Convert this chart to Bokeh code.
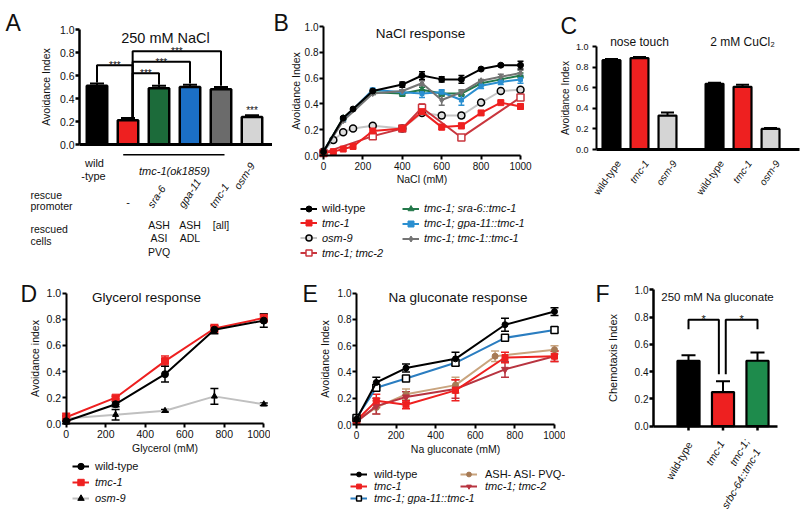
import math
from bokeh.plotting import figure
from bokeh.models import (Range1d, FixedTicker, Label, Whisker, ColumnDataSource,
                          Legend, LegendItem, NumeralTickFormatter, TeeHead)
from bokeh.layouts import row, column
from bokeh.embed import file_html
from bokeh.resources import INLINE

FONT = "Liberation Sans"
TXT = "#111111"
RED = "#ee2020"

# ---------------- data ----------------
# Panel A: 250 mM NaCl avoidance
A_strains = ["wild-type", "tmc-1", "tmc-1; sra-6::tmc-1", "tmc-1; gpa-11::tmc-1",
             "tmc-1; tmc-1::tmc-1", "osm-9"]
A_values = [0.51, 0.21, 0.49, 0.50, 0.48, 0.24]
A_errors = [0.02, 0.02, 0.02, 0.02, 0.02, 0.015]
A_colors = ["#000000", RED, "#1c6b3a", "#1b6fc5", "#6b6b6b", "#d5d5d5"]
A_promoters = ["sra-6", "gpa-11", "tmc-1"]
A_cells = [["ASH", "ASI", "PVQ"], ["ASH", "ADL"], ["[all]"]]
A_sig = [(0, 1, 0.69), (1, 2, 0.62), (1, 3, 0.72), (1, 4, 0.81)]

# Panel B: NaCl response
B_x_all = [0, 50, 100, 150, 250, 400, 500, 600, 700, 800, 900, 1000]
B_x_wt = [0, 100, 150, 250, 400, 500, 600, 700, 800, 900, 1000]
B_wt = [0.03, 0.29, 0.36, 0.50, 0.55, 0.62, 0.59, 0.59, 0.67, 0.70, 0.70]
B_wt_err = [0.01, 0.01, 0.01, 0.01, 0.02, 0.03, 0.02, 0.03, 0.01, 0.01, 0.03]
B_tmc1 = [0.02, 0.03, 0.05, 0.07, 0.19, 0.21, 0.34, 0.22, 0.23, 0.33, 0.41, 0.38]
B_tmc1_err = [0.01, 0.01, 0.01, 0.01, 0.02, 0.01, 0.02, 0.02, 0.02, 0.01, 0.01, 0.02]
B_osm9 = [0.03, 0.12, 0.18, 0.21, 0.23, 0.21, 0.33, 0.31, 0.31, 0.41, 0.50, 0.51]
B_osm9_err = [0.01, 0.01, 0.01, 0.01, 0.01, 0.01, 0.01, 0.02, 0.02, 0.01, 0.01, 0.01]
B_x_tmc2 = [0, 250, 400, 500, 700, 1000]
B_tmc2 = [0.02, 0.15, 0.21, 0.37, 0.14, 0.45]
B_tmc2_err = [0.01, 0.01, 0.01, 0.03, 0.01, 0.02]
B_x_res = [0, 100, 250, 400, 500, 600, 700, 800, 900, 1000]
B_sra6 = [0.03, 0.29, 0.49, 0.48, 0.51, 0.48, 0.48, 0.56, 0.59, 0.62]
B_sra6_err = [0.01, 0.01, 0.01, 0.02, 0.02, 0.02, 0.02, 0.02, 0.02, 0.02]
B_gpa11 = [0.03, 0.28, 0.51, 0.49, 0.48, 0.49, 0.43, 0.54, 0.57, 0.59]
B_gpa11_err = [0.01, 0.01, 0.01, 0.02, 0.03, 0.02, 0.04, 0.02, 0.02, 0.03]
B_tmc1r = [0.03, 0.27, 0.48, 0.50, 0.56, 0.43, 0.49, 0.58, 0.61, 0.64]
B_tmc1r_err = [0.01, 0.01, 0.01, 0.01, 0.02, 0.04, 0.02, 0.01, 0.02, 0.02]

# Panel C: nose touch and CuCl2
C_assays = ["nose touch", "2 mM CuCl\u2082"]
C_strains = ["wild-type", "tmc-1", "osm-9"]
C_values = [0.87, 0.89, 0.33, 0.64, 0.61, 0.20]
C_errors = [0.01, 0.01, 0.03, 0.01, 0.02, 0.01]
C_colors = ["#000000", RED, "#d5d5d5"] * 2

# Panel D: glycerol response
D_x = [0, 250, 500, 750, 1000]
D_wt = [0.02, 0.15, 0.38, 0.72, 0.79]
D_wt_err = [0.02, 0.02, 0.06, 0.03, 0.05]
D_tmc1 = [0.05, 0.20, 0.48, 0.73, 0.81]
D_tmc1_err = [0.03, 0.01, 0.04, 0.03, 0.03]
D_osm9 = [0.04, 0.07, 0.10, 0.21, 0.15]
D_osm9_err = [0.02, 0.04, 0.01, 0.06, 0.01]

# Panel E: Na gluconate response
E_x = [0, 100, 250, 500, 750, 1000]
E_wt = [0.04, 0.32, 0.43, 0.50, 0.76, 0.86]
E_wt_err = [0.01, 0.04, 0.03, 0.05, 0.05, 0.03]
E_tmc1 = [0.03, 0.18, 0.15, 0.26, 0.51, 0.52]
E_tmc1_err = [0.01, 0.05, 0.03, 0.08, 0.04, 0.04]
E_gpa11 = [0.05, 0.28, 0.35, 0.47, 0.66, 0.72]
E_gpa11_err = [0.01, 0.02, 0.02, 0.02, 0.02, 0.02]
E_x_abl = [0, 100, 250, 500, 700, 1000]
E_abl = [0.03, 0.13, 0.23, 0.30, 0.52, 0.57]
E_abl_err = [0.01, 0.05, 0.04, 0.06, 0.04, 0.03]
E_tmc2 = [0.02, 0.14, 0.21, 0.27, 0.42, 0.52]
E_tmc2_err = [0.01, 0.06, 0.04, 0.07, 0.06, 0.04]

# Panel F: 250 mM Na gluconate chemotaxis
F_strains = ["wild-type", "tmc-1", "tmc-1; srbc-64::tmc-1"]
F_values = [0.48, 0.25, 0.48]
F_errors = [0.04, 0.08, 0.06]
F_colors = ["#000000", RED, "#1e8b4c"]
F_sig = [(0, 0.88, 0.78, 0.71, 0.38), (1.08, 2, 0.78, 0.38, 0.71)]


# ---------------- helpers ----------------
class Panel:
    def __init__(self, ox, oy, w, h, px0, sx, py0, sy):
        self.px0, self.sx, self.py0, self.sy = px0, sx, py0, sy
        self.oy, self.h = oy, h
        p = figure(width=w, height=h, output_backend="svg", toolbar_location=None,
                   x_range=Range1d(self.X(ox), self.X(ox + w)),
                   y_range=Range1d(self.Y(oy + h), self.Y(oy)),
                   min_border=0, min_border_left=0, min_border_right=0,
                   min_border_top=0, min_border_bottom=0)
        p.outline_line_color = None
        p.xgrid.visible = False
        p.ygrid.visible = False
        p.background_fill_color = "white"
        p.border_fill_color = "white"
        self.p = p

    def X(self, px):
        return (px - self.px0) / self.sx

    def Y(self, py):
        return (self.py0 - py) / self.sy

    def td(self, x, y, s, size, style="normal", align="left", baseline="alphabetic",
           angle=0.0, color=TXT):
        self.p.add_layout(Label(x=x, y=y, text=s, text_font=FONT,
                                text_font_size=f"{size}px", text_font_style=style,
                                text_align=align, text_baseline=baseline,
                                angle=math.radians(angle), text_color=color))

    def tp(self, px, py, s, size, **kw):
        self.td(self.X(px), self.Y(py), s, size, **kw)


def style_axis(ax, fixed, bounds, ticks, size, lw, label=None, label_size=10.5,
               fmt=None, ls=2, als=2, tick_out=4):
    ax.fixed_location = fixed
    ax.bounds = bounds
    ax.ticker = FixedTicker(ticks=ticks)
    ax.minor_tick_line_color = None
    ax.major_tick_in = 0
    ax.major_tick_out = tick_out
    ax.axis_line_width = lw
    ax.axis_line_color = "black"
    ax.major_tick_line_width = lw
    ax.major_tick_line_color = "black"
    ax.major_label_text_font = FONT
    ax.major_label_text_font_size = f"{size}px"
    ax.major_label_text_color = TXT
    ax.major_label_standoff = ls
    if fmt:
        ax.formatter = NumeralTickFormatter(format=fmt)
    if label:
        ax.axis_label = label
        ax.axis_label_text_font = FONT
        ax.axis_label_text_font_size = f"{label_size}px"
        ax.axis_label_text_font_style = "normal"
        ax.axis_label_text_color = TXT
        ax.axis_label_standoff = als


def errbars(p, xs, ys, es, color, head, lw, lower=True):
    src = ColumnDataSource(dict(x=list(xs),
                                lo=[(y - e) if lower else y for y, e in zip(ys, es)],
                                hi=[y + e for y, e in zip(ys, es)]))
    w = Whisker(source=src, base="x", lower="lo", upper="hi",
                line_color=color, line_width=lw,
                upper_head=TeeHead(size=head, line_color=color, line_width=lw),
                lower_head=TeeHead(size=head, line_color=color, line_width=lw) if lower else None)
    p.add_layout(w)


def series(p, xs, ys, es, color, marker, msize, lw=2, mfill=None, mline=None,
           mlw=1, head=6, ecolor=None, elw=1.5):
    rl = p.line(xs, ys, line_color=color, line_width=lw)
    if es is not None:
        errbars(p, xs, ys, es, ecolor or color, head, elw)
    rs = p.scatter(xs, ys, marker=marker, size=msize,
                   fill_color=mfill if mfill is not None else color,
                   line_color=mline if mline is not None else color, line_width=mlw)
    return [rl, rs]


def legend(p, items, x, y, style="italic", size=11, gw=17, row_h=15, standoff=5):
    lg = Legend(items=items, location=(x, y), orientation="vertical",
                glyph_width=gw, glyph_height=row_h, label_height=row_h,
                spacing=0, padding=0, margin=0, label_standoff=standoff,
                label_text_font=FONT, label_text_font_size=f"{size}px",
                label_text_font_style=style, label_text_color=TXT,
                border_line_color=None, background_fill_alpha=0)
    p.add_layout(lg)


Y_TICKS = [0, 0.2, 0.4, 0.6, 0.8, 1.0]
X_TICKS = [0, 200, 400, 600, 800, 1000]

# ---------------- Panel A ----------------
A = Panel(0, 0, 272, 260, 96.5, 31, 144, 115)
pa = A.p
A_pos = list(range(len(A_values)))
style_axis(pa.yaxis[0], A.X(79), (0, 1), Y_TICKS, 10.5, 2.5, "Avoidance Index", 10.5,
           fmt="0.0", ls=1, als=5)
style_axis(pa.xaxis[0], 0, (A.X(79), A.X(272)), [], 10, 3)
pa.vbar(x=A_pos, top=A_values, width=0.66, fill_color=A_colors,
        line_color="black", line_width=2.5)
errbars(pa, A_pos, A_values, A_errors, "black", 14, 2, lower=False)

PIV = 0.15


def a_end_x(i):
    return i + PIV if i == 1 else i


def a_end_y(i):
    return A_values[i] + A_errors[i] + 0.01


bx, by = [], []
for i, j, h in A_sig:
    xl, xr = a_end_x(i), a_end_x(j)
    bx.append([xl, xl, xr, xr])
    by.append([a_end_y(i), h, h, a_end_y(j)])
    A.td((xl + xr) / 2, h - 0.005, "***", 10, align="center")
pa.multi_line(bx, by, line_color="black", line_width=2)
A.td(5, A_values[5] + A_errors[5] + 0.045, "***", 10, align="center")

A.tp(5, 22, "A", 23)
A.tp(165, 37, "250 mM NaCl", 14.5, align="center")
A.tp(94, 162, "wild", 11, align="center")
A.tp(93, 175, "-type", 11, align="center")
pa.line([A.X(122.7), A.X(224)], [A.Y(154.3), A.Y(154.3)], line_color="black", line_width=1.5)
A.tp(174, 170, "tmc-1(ok1859)", 11, style="italic", align="center")
A.tp(30, 194.5, "rescue", 10.5)
A.tp(30, 205.5, "promoter", 10.5)
A.tp(30, 228, "rescued", 10.5)
A.tp(30, 240.5, "cells", 10.5)
A.td(1, A.Y(201), "-", 11, align="center")
for k, name in enumerate(A_promoters):
    A.td(2 + k - 0.3, A.Y(206), name, 10.5, style="italic", angle=57)
A.td(5.0, A.Y(163), "osm-9", 10.5, style="italic", align="right", baseline="middle", angle=57)
for k, cells in enumerate(A_cells):
    for r, c in enumerate(cells):
        A.td(2 + k, A.Y(224 + 13.8 * r), c, 10.5, align="center")

# ---------------- Panel B ----------------
B = Panel(272, 0, 268, 260, 323, 0.197, 155, 129)
pb = B.p
style_axis(pb.yaxis[0], 0, (0, 1), Y_TICKS, 10, 2, "Avoidance Index", 10.5,
           fmt="0.0", ls=1, als=0)
style_axis(pb.xaxis[0], 0, (0, 1000), X_TICKS, 10, 2, "NaCl (mM)", 10.5, ls=2, als=0)
r_osm9 = series(pb, B_x_all, B_osm9, B_osm9_err, "#c4c4c4", "circle", 7,
                mfill="#dedede", mline="black", mlw=1.5, ecolor="black")
r_tmc2 = series(pb, B_x_tmc2, B_tmc2, B_tmc2_err, "#c9363e", "square", 7,
                mfill="white", mline="#c9363e", mlw=1.5)
r_tmc1 = series(pb, B_x_all, B_tmc1, B_tmc1_err, RED, "square", 6)
r_sra6 = series(pb, B_x_res, B_sra6, B_sra6_err, "#23784a", "triangle", 6)
r_gpa = series(pb, B_x_res, B_gpa11, B_gpa11_err, "#2b8fd0", "square", 4)
r_res = series(pb, B_x_res, B_tmc1r, B_tmc1r_err, "#747474", "diamond", 6)
r_wt = series(pb, B_x_wt, B_wt, B_wt_err, "black", "circle", 6)
B.tp(420, 32.5, "NaCl response", 13.5, align="center")
B.tp(273, 22, "B", 23)
legend(pb, [LegendItem(label="wild-type", renderers=r_wt)], 28, 44.5, style="normal")
legend(pb, [LegendItem(label="tmc-1", renderers=r_tmc1),
            LegendItem(label="osm-9", renderers=r_osm9),
            LegendItem(label="tmc-1; tmc-2", renderers=r_tmc2)], 28, 0)
legend(pb, [LegendItem(label="tmc-1; sra-6::tmc-1", renderers=r_sra6),
            LegendItem(label="tmc-1; gpa-11::tmc-1", renderers=r_gpa),
            LegendItem(label="tmc-1; tmc-1::tmc-1", renderers=r_res)], 130, 14.5)

# ---------------- Panel C ----------------
C = Panel(540, 0, 260, 260, 611, 28, 149, 102.7)
pc = C.p
C_pos = [g * 3.68 + k for g in range(len(C_assays)) for k in range(len(C_strains))]
style_axis(pc.yaxis[0], C.X(596), (0, 1), Y_TICKS, 9, 2, "Avoidance Index", 10,
           fmt="0.0", ls=4, als=2)
style_axis(pc.xaxis[0], 0, (C.X(596), C.X(799)), [], 9, 3)
pc.vbar(x=C_pos, top=C_values, width=0.64, fill_color=C_colors,
        line_color="black", line_width=2.2)
errbars(pc, C_pos, C_values, C_errors, "black", 13, 2, lower=False)
C.tp(560, 25, "C", 23)
C.td(1, C.Y(41.7), C_assays[0], 12, align="center")
C.td(3.68 + 1, C.Y(41.7), C_assays[1], 12, align="center")
for idx, xp in enumerate(C_pos):
    nm = C_strains[idx % 3]
    C.td(xp + 0.25, C.Y(161), nm, 10, style="normal" if nm == "wild-type" else "italic",
         align="right", baseline="middle", angle=55)

# ---------------- Panel D ----------------
D = Panel(0, 260, 270, 255, 65.7, 0.1976, 423.3, 130.6)
pd_ = D.p
style_axis(pd_.yaxis[0], 0, (0, 1), Y_TICKS, 10.5, 2, "Avoidance index", 10.5,
           fmt="0.0", ls=1, als=3)
style_axis(pd_.xaxis[0], 0, (0, 1000), X_TICKS, 10.5, 2, "Glycerol (mM)", 10.5, ls=2, als=1)
d_osm = series(pd_, D_x, D_osm9, D_osm9_err, "#c0c0c0", "triangle", 6,
               mfill="black", mline="black", head=8, ecolor="black")
d_tmc = series(pd_, D_x, D_tmc1, D_tmc1_err, RED, "square", 7, head=8)
d_wt = series(pd_, D_x, D_wt, D_wt_err, "black", "circle", 7, head=8)
D.tp(20, 293, "D", 23)
D.tp(146, 297.3, "Glycerol response", 13.5, align="center")
legend(pd_, [LegendItem(label="wild-type", renderers=d_wt)], 72, 41, style="normal", row_h=16, standoff=6)
legend(pd_, [LegendItem(label="tmc-1", renderers=d_tmc),
             LegendItem(label="osm-9", renderers=d_osm)], 72, 9, row_h=16, standoff=6)

# ---------------- Panel E ----------------
E = Panel(270, 260, 295, 255, 356, 0.198, 424, 131.3)
pe = E.p
style_axis(pe.yaxis[0], 0, (0, 1), Y_TICKS, 10, 2, "Avoidance Index", 10.5,
           fmt="0.0", ls=1, als=4)
style_axis(pe.xaxis[0], 0, (0, 1000), X_TICKS, 10, 2, "Na gluconate (mM)", 10.5, ls=2, als=1)
e_abl = series(pe, E_x_abl, E_abl, E_abl_err, "#c9a47e", "circle", 6,
               mfill="#a67a55", mline="#a67a55", head=8)
e_tmc2 = series(pe, E_x, E_tmc2, E_tmc2_err, "#b83440", "inverted_triangle", 7, head=8)
e_tmc1 = series(pe, E_x, E_tmc1, E_tmc1_err, RED, "square", 6, head=8)
e_gpa = series(pe, E_x, E_gpa11, E_gpa11_err, "#2a7dc0", "square", 7,
               mfill="white", mline="black", mlw=1.5, head=8)
e_wt = series(pe, E_x, E_wt, E_wt_err, "black", "circle", 6, head=8)
E.tp(302, 293, "E", 23)
E.tp(457.5, 297, "Na gluconate response", 13.5, align="center")
legend(pe, [LegendItem(label="wild-type", renderers=e_wt)], 80, 35, style="normal", row_h=12, standoff=7)
legend(pe, [LegendItem(label="tmc-1", renderers=e_tmc1),
            LegendItem(label="tmc-1; gpa-11::tmc-1", renderers=e_gpa)], 80, 11, row_h=12, standoff=7)
legend(pe, [LegendItem(label="ASH- ASI- PVQ-", renderers=e_abl)], 190, 35, style="normal", row_h=12, standoff=8)
legend(pe, [LegendItem(label="tmc-1; tmc-2", renderers=e_tmc2)], 190, 23, row_h=12, standoff=8)

# ---------------- Panel F ----------------
F = Panel(565, 260, 235, 255, 688, 34.5, 425.7, 136.4)
pf = F.p
F_pos = list(range(len(F_values)))
style_axis(pf.yaxis[0], F.X(653), (0, 1), Y_TICKS, 10, 2.5, "Chemotaxis Index", 11,
           fmt="0.0", ls=1, als=13)
style_axis(pf.xaxis[0], 0, (F.X(653), F.X(777)), [], 10, 2.5)
pf.segment(x0=F_pos, y0=[0] * len(F_pos), x1=F_pos, y1=[F.Y(430)] * len(F_pos),
           line_color="black", line_width=2.5)
pf.vbar(x=F_pos, top=F_values, width=0.64, fill_color=F_colors,
        line_color="black", line_width=2.2)
errbars(pf, F_pos, F_values, F_errors, "black", 14, 2, lower=False)
fx, fy = [], []
for xl, xr, h, yl, yr in F_sig:
    fx.append([xl, xl, xr, xr])
    fy.append([yl, h, h, yr])
    F.td((xl + xr) / 2, h + 0.005, "*", 11, align="center")
pf.multi_line(fx, fy, line_color="black", line_width=2)
F.tp(595, 293, "F", 23)
F.tp(717, 296, "250 mM Na gluconate", 11.5, align="center")
F.tp(689, 442, "wild-type", 10.5, align="right", baseline="middle", angle=60)
F.tp(721, 441, "tmc-1", 10.5, style="italic", align="right", baseline="middle", angle=60)
F.tp(746, 439, "tmc-1;", 10.5, style="italic", align="right", baseline="middle", angle=60)
F.tp(757, 449, "srbc-64::tmc-1", 10.5, style="italic", align="right", baseline="middle", angle=60)

layout = column(row(pa, pb, pc, spacing=0), row(pd_, pe, pf, spacing=0), spacing=0)
open("out.html", "w").write(file_html(layout, INLINE))
